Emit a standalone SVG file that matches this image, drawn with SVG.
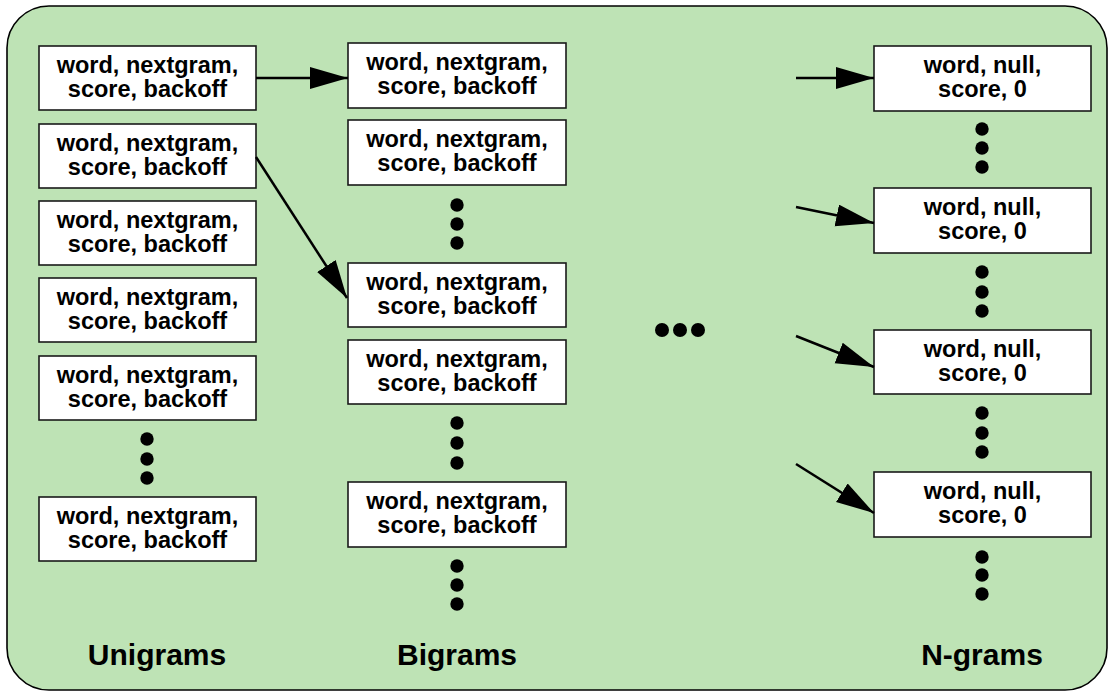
<svg xmlns="http://www.w3.org/2000/svg" width="1113" height="694" viewBox="0 0 1113 694">
<style>
.box{fill:#fff;stroke:#1a1a1a;stroke-width:1.6}
.t{font-family:"Liberation Sans",Arial,sans-serif;font-weight:bold;font-size:23.5px;fill:#000;text-anchor:middle}
.lbl{font-family:"Liberation Sans",Arial,sans-serif;font-weight:bold;font-size:30px;fill:#000;text-anchor:middle}
.conn{stroke:#000;stroke-width:2.5;fill:none;marker-end:url(#ah)}
.dot{fill:#000}
</style>
<defs>
<marker id="ah" markerUnits="userSpaceOnUse" markerWidth="40" markerHeight="24" refX="38" refY="11" orient="auto" viewBox="0 0 40 24">
<path d="M0,0 L38,11 L0,22 z" fill="#000"/>
</marker>
</defs>
<rect x="7" y="6" width="1100" height="684" rx="42" ry="42" fill="#bee3b5" stroke="#000" stroke-width="1.6"/>

<g id="unigrams">
<g id="u1"><rect class="box" x="39" y="46" width="217" height="64"/><text class="t" x="147.5" y="72.5">word, nextgram,</text><text class="t" x="147.5" y="97">score, backoff</text></g>
<g id="u2"><rect class="box" x="39" y="124" width="217" height="64"/><text class="t" x="147.5" y="150.5">word, nextgram,</text><text class="t" x="147.5" y="175">score, backoff</text></g>
<g id="u3"><rect class="box" x="39" y="201" width="217" height="64"/><text class="t" x="147.5" y="227.5">word, nextgram,</text><text class="t" x="147.5" y="252">score, backoff</text></g>
<g id="u4"><rect class="box" x="39" y="278" width="217" height="64"/><text class="t" x="147.5" y="304.5">word, nextgram,</text><text class="t" x="147.5" y="329">score, backoff</text></g>
<g id="u5"><rect class="box" x="39" y="356" width="217" height="64"/><text class="t" x="147.5" y="382.5">word, nextgram,</text><text class="t" x="147.5" y="407">score, backoff</text></g>
<g id="u6"><rect class="box" x="39" y="497" width="217" height="64"/><text class="t" x="147.5" y="523.5">word, nextgram,</text><text class="t" x="147.5" y="548">score, backoff</text></g>
<g id="udots"><circle class="dot" cx="147" cy="439" r="6.7"/><circle class="dot" cx="147" cy="459" r="6.7"/><circle class="dot" cx="147" cy="478" r="6.7"/></g>
<text id="ulabel" class="lbl" x="157" y="665">Unigrams</text>
</g>

<g id="bigrams">
<g id="b1"><rect class="box" x="348" y="43" width="218" height="65"/><text class="t" x="457" y="69.5">word, nextgram,</text><text class="t" x="457" y="94">score, backoff</text></g>
<g id="b2"><rect class="box" x="348" y="120" width="218" height="65"/><text class="t" x="457" y="146.5">word, nextgram,</text><text class="t" x="457" y="171">score, backoff</text></g>
<g id="b3"><rect class="box" x="348" y="263" width="218" height="64"/><text class="t" x="457" y="289.5">word, nextgram,</text><text class="t" x="457" y="314">score, backoff</text></g>
<g id="b4"><rect class="box" x="348" y="340" width="218" height="64"/><text class="t" x="457" y="366.5">word, nextgram,</text><text class="t" x="457" y="391">score, backoff</text></g>
<g id="b5"><rect class="box" x="348" y="482" width="218" height="65"/><text class="t" x="457" y="508.5">word, nextgram,</text><text class="t" x="457" y="533">score, backoff</text></g>
<g id="bdots">
<circle class="dot" cx="457" cy="205" r="6.7"/><circle class="dot" cx="457" cy="224" r="6.7"/><circle class="dot" cx="457" cy="243" r="6.7"/>
<circle class="dot" cx="457" cy="423" r="6.7"/><circle class="dot" cx="457" cy="443" r="6.7"/><circle class="dot" cx="457" cy="463" r="6.7"/>
<circle class="dot" cx="457" cy="566" r="6.7"/><circle class="dot" cx="457" cy="585" r="6.7"/><circle class="dot" cx="457" cy="604" r="6.7"/>
</g>
<text id="blabel" class="lbl" x="457" y="665">Bigrams</text>
</g>

<g id="ellipsis"><circle class="dot" cx="662" cy="330" r="7"/><circle class="dot" cx="680" cy="330" r="7"/><circle class="dot" cx="698" cy="330" r="7"/></g>

<g id="ngrams">
<g id="n1"><rect class="box" x="874" y="46" width="217" height="65"/><text class="t" x="982.5" y="72.5">word, null,</text><text class="t" x="982.5" y="97">score, 0</text></g>
<g id="n2"><rect class="box" x="874" y="188" width="217" height="65"/><text class="t" x="982.5" y="214.5">word, null,</text><text class="t" x="982.5" y="239">score, 0</text></g>
<g id="n3"><rect class="box" x="874" y="330" width="217" height="64"/><text class="t" x="982.5" y="356.5">word, null,</text><text class="t" x="982.5" y="381">score, 0</text></g>
<g id="n4"><rect class="box" x="874" y="472" width="217" height="65"/><text class="t" x="982.5" y="498.5">word, null,</text><text class="t" x="982.5" y="523">score, 0</text></g>
<g id="ndots">
<circle class="dot" cx="982" cy="129" r="6.7"/><circle class="dot" cx="982" cy="148" r="6.7"/><circle class="dot" cx="982" cy="167" r="6.7"/>
<circle class="dot" cx="982" cy="272" r="6.7"/><circle class="dot" cx="982" cy="292" r="6.7"/><circle class="dot" cx="982" cy="311" r="6.7"/>
<circle class="dot" cx="982" cy="413" r="6.7"/><circle class="dot" cx="982" cy="433" r="6.7"/><circle class="dot" cx="982" cy="452" r="6.7"/>
<circle class="dot" cx="982" cy="557" r="6.7"/><circle class="dot" cx="982" cy="575" r="6.7"/><circle class="dot" cx="982" cy="594" r="6.7"/>
</g>
<text id="nlabel" class="lbl" x="982" y="665">N-grams</text>
</g>

<g id="connectors">
<line class="conn" x1="256" y1="78" x2="348" y2="78"/>
<line class="conn" x1="256" y1="157" x2="347" y2="298"/>
<line class="conn" x1="796" y1="78" x2="874" y2="78"/>
<line class="conn" x1="796" y1="207" x2="874" y2="223"/>
<line class="conn" x1="796" y1="336" x2="874" y2="367"/>
<line class="conn" x1="796" y1="464" x2="874" y2="513"/>
</g>
</svg>
